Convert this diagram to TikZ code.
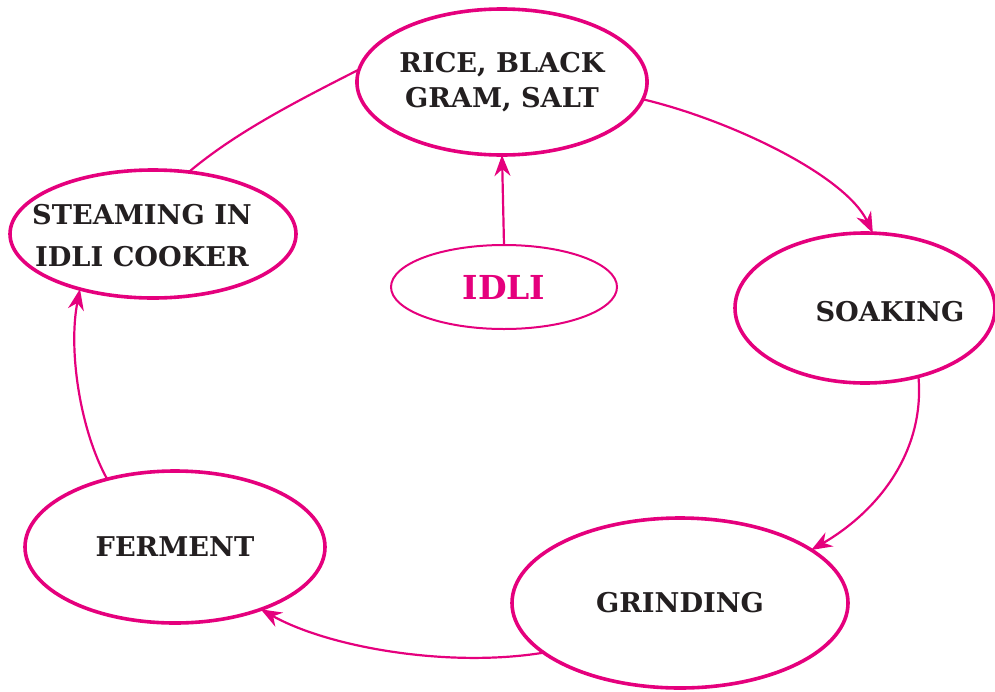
\documentclass[tikz,border=0pt]{standalone}
\usepackage{fontspec}
\setmainfont{DejaVu Serif}
\usepackage{tikz}
\usetikzlibrary{shapes.geometric,arrows.meta}
\definecolor{idlipink}{HTML}{E5007D}
\definecolor{inkgray}{HTML}{231F20}
\tikzset{stage/.style={ellipse, draw=idlipink, line width=1.8pt, inner sep=0pt, outer sep=0pt, fill=white,
  text=inkgray, font=\bfseries\fontsize{13.6}{17.5}\selectfont, align=center}}
\tikzset{stagetext/.style={text=inkgray, font=\bfseries\fontsize{13.6}{17.5}\selectfont, align=center}}
\tikzset{link/.style={draw=idlipink, line width=1.1pt}}
\tikzset{flow/.style={link, -{Stealth[length=10.5pt,width=8pt]}}}

\begin{document}
\begin{tikzpicture}[x=0.5pt,y=-0.5pt]
		\useasboundingbox (0,0) rectangle (995,691);
		% stages of the cycle
		\node[stage, minimum width=145pt, minimum height=73pt] (rice) at (502,82) {RICE, BLACK\\GRAM, SALT};
		\node[stage, minimum width=130pt, minimum height=75pt,
		      label={[stagetext,xshift=12.5pt,yshift=-2pt]center:SOAKING}] (soak) at (865,308) {};
		\node[stage, minimum width=168pt, minimum height=85pt] (grind) at (680,603) {GRINDING};
		\node[stage, minimum width=150pt, minimum height=76pt] (ferm) at (175,547) {FERMENT};
		\node[stage, minimum width=143pt, minimum height=64pt,
		      label={[stagetext,font=\bfseries\fontsize{13.6}{21}\selectfont,xshift=-5.5pt,yshift=-1pt]center:STEAMING IN\\IDLI COOKER}] (steam) at (153,234) {};
		\node[stage, line width=1pt, minimum width=113pt, minimum height=42pt,
		      text=idlipink, font=\bfseries\fontsize{16.5}{18}\selectfont] (idli) at (504,287) {IDLI};
		% connectors
		\draw[flow] (rice.-7) .. controls (730,120) and (845,175) .. (soak.84);
		\draw[flow] (soak.-52) .. controls (925,450) and (880,510) .. (grind.22);
		\draw[flow] (grind.200) .. controls (450,668) and (330,648) .. (ferm.-36);
		\draw[flow] (ferm.135) .. controls (80,430) and (68,350) .. (steam.-143);
		\draw[link] (steam.60) .. controls (235,133) and (295,102) .. (rice.175);
		\draw[flow] (idli.north) -- (rice.south);
	\end{tikzpicture}
\end{document}
